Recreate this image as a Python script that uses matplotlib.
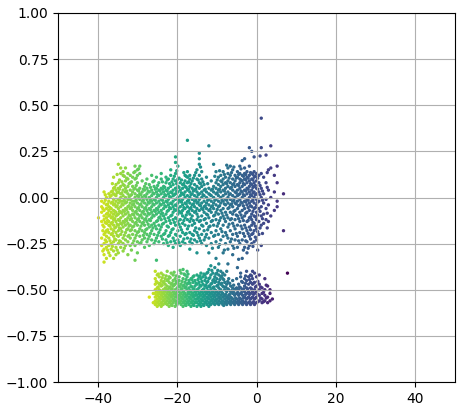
import numpy as np
import matplotlib
matplotlib.use("Agg")
from matplotlib import pyplot as plt

# points, grouped as x: [y, y, ...]
upper_cols = {
    -39.8: [-0.11],
    -39.0: [-0.26, -0.22, -0.13, -0.08, -0.05, -0.02],
    -38.4: [-0.35, -0.31, -0.28, -0.25, -0.2, -0.16, -0.12, -0.1, -0.07, -0.03, 0.03],
    -37.8: [-0.33, -0.27, -0.24, -0.21, -0.18, -0.14, -0.11, -0.09, -0.06, -0.04, 0.0],
    -37.2: [-0.3, -0.26, -0.22, -0.19, -0.15, -0.13, -0.1, -0.07, -0.05, -0.02, 0.02],
    -36.6: [-0.28, -0.25, -0.2, -0.17, -0.14, -0.11, -0.08, -0.06, -0.03, 0.01, 0.03],
    -36.0: [-0.33, -0.29, -0.24, -0.21, -0.18, -0.15, -0.12, -0.09, -0.07, -0.04, -0.01, 0.02, 0.05, 0.11],
    -35.4: [-0.31, -0.27, -0.23, -0.19, -0.16, -0.13, -0.1, -0.08, -0.05, -0.02, 0.01, 0.04, 0.07],
    -34.8: [-0.3, -0.25, -0.21, -0.18, -0.15, -0.12, -0.09, -0.06, -0.03, -0.01, 0.03, 0.05, 0.08, 0.18],
    -34.2: [-0.27, -0.24, -0.2, -0.17, -0.14, -0.11, -0.08, -0.05, -0.02, 0.0, 0.02, 0.06, 0.13, 0.16],
    -33.6: [-0.29, -0.25, -0.22, -0.16, -0.13, -0.1, -0.07, -0.04, -0.02, 0.01, 0.04, 0.07, 0.12, 0.14],
    -33.0: [-0.26, -0.23, -0.19, -0.15, -0.12, -0.09, -0.06, -0.03, 0.0, 0.03, 0.05, 0.09, 0.16],
    -32.4: [-0.31, -0.24, -0.21, -0.17, -0.14, -0.11, -0.08, -0.05, -0.01, 0.02, 0.06, 0.1, 0.13],
    -31.8: [-0.26, -0.22, -0.18, -0.15, -0.12, -0.1, -0.06, -0.03, -0.01, 0.01, 0.04, 0.08, 0.12],
    -31.2: [-0.25, -0.2, -0.16, -0.13, -0.09, -0.07, -0.04, -0.02, 0.03, 0.06, 0.11],
    -30.6: [-0.34, -0.26, -0.22, -0.18, -0.14, -0.11, -0.08, -0.05, -0.02, 0.0, 0.02, 0.05, 0.1, 0.14, 0.17],
    -30.0: [-0.3, -0.24, -0.19, -0.15, -0.12, -0.09, -0.06, -0.03, 0.01, 0.04, 0.08, 0.12, 0.15],
    -29.4: [-0.25, -0.21, -0.17, -0.13, -0.1, -0.07, -0.04, -0.01, 0.02, 0.05, 0.13, 0.17],
    -28.8: [-0.23, -0.18, -0.14, -0.11, -0.08, -0.05, -0.02, 0.0, 0.03, 0.09],
    -28.2: [-0.27, -0.22, -0.19, -0.15, -0.12, -0.09, -0.06, -0.03, 0.01, 0.04, 0.06],
    -27.6: [-0.24, -0.2, -0.17, -0.13, -0.1, -0.07, -0.04, -0.01, 0.02, 0.05, 0.1],
    -27.0: [-0.26, -0.21, -0.16, -0.12, -0.09, -0.06, -0.03, 0.0, 0.03, 0.07],
    -26.4: [-0.23, -0.18, -0.15, -0.11, -0.08, -0.05, -0.02, 0.01, 0.04, 0.12],
    -25.8: [-0.25, -0.2, -0.14, -0.1, -0.07, -0.04, -0.01, 0.02, 0.06, 0.09],
    -25.2: [-0.34, -0.22, -0.17, -0.13, -0.09, -0.06, -0.03, 0.0, 0.03, 0.05, 0.11],
    -24.6: [-0.24, -0.19, -0.15, -0.11, -0.08, -0.05, -0.02, 0.01, 0.04, 0.08],
    -24.0: [-0.21, -0.16, -0.12, -0.09, -0.07, -0.04, -0.01, 0.02, 0.05, 0.1, 0.13],
    -23.4: [-0.25, -0.2, -0.14, -0.1, -0.06, -0.03, 0.0, 0.03, 0.06],
    -22.8: [-0.23, -0.18, -0.13, -0.09, -0.05, -0.02, 0.01, 0.04, 0.08, 0.11],
    -22.2: [-0.26, -0.21, -0.16, -0.11, -0.07, -0.04, -0.01, 0.02, 0.05, 0.1],
    -21.6: [-0.24, -0.19, -0.14, -0.1, -0.06, -0.03, 0.0, 0.03, 0.06, 0.12, 0.15],
    -21.0: [-0.27, -0.22, -0.17, -0.12, -0.08, -0.05, -0.02, 0.01, 0.04, 0.07, 0.1],
    -20.4: [-0.25, -0.2, -0.15, -0.11, -0.07, -0.04, -0.01, 0.02, 0.05, 0.09, 0.13, 0.19, 0.22],
    -19.8: [-0.23, -0.18, -0.13, -0.09, -0.06, -0.03, 0.0, 0.03, 0.06, 0.1, 0.17],
    -19.2: [-0.26, -0.21, -0.16, -0.12, -0.08, -0.05, -0.02, 0.01, 0.04, 0.08],
    -18.6: [-0.24, -0.19, -0.14, -0.1, -0.07, -0.04, -0.01, 0.02, 0.05, 0.07],
    -18.0: [-0.25, -0.2, -0.15, -0.11, -0.06, -0.03, 0.0, 0.03, 0.06, 0.09, 0.12],
    -17.4: [-0.22, -0.17, -0.12, -0.08, -0.05, -0.02, 0.01, 0.04, 0.08, 0.11, 0.14, 0.31],
    -16.8: [-0.28, -0.24, -0.19, -0.13, -0.09, -0.06, -0.03, 0.0, 0.03, 0.06, 0.1, 0.12],
    -16.2: [-0.25, -0.2, -0.15, -0.1, -0.07, -0.04, -0.01, 0.02, 0.05, 0.09],
    -15.6: [-0.23, -0.18, -0.14, -0.08, -0.05, -0.02, 0.01, 0.04, 0.07, 0.12],
    -15.0: [-0.3, -0.24, -0.19, -0.12, -0.09, -0.06, -0.03, 0.0, 0.03, 0.06, 0.1, 0.15],
    -14.4: [-0.22, -0.17, -0.13, -0.07, -0.04, -0.01, 0.02, 0.05, 0.08, 0.12, 0.18, 0.21, 0.24],
    -13.8: [-0.25, -0.2, -0.15, -0.1, -0.06, -0.03, 0.0, 0.03, 0.06, 0.1, 0.14],
    -13.2: [-0.23, -0.18, -0.12, -0.08, -0.05, -0.02, 0.01, 0.04, 0.07],
    -12.6: [-0.26, -0.2, -0.14, -0.09, -0.06, -0.03, 0.0, 0.03, 0.11],
    -12.0: [-0.3, -0.22, -0.16, -0.11, -0.07, -0.04, -0.01, 0.02, 0.05, 0.28],
    -11.4: [-0.25, -0.19, -0.13, -0.08, -0.05, -0.02, 0.01, 0.04, 0.09],
    -10.8: [-0.21, -0.15, -0.1, -0.06, -0.03, 0.0, 0.03, 0.06, 0.18],
    -10.2: [-0.33, -0.24, -0.18, -0.12, -0.08, -0.04, -0.01, 0.02, 0.05, 0.08, 0.14],
    -9.6: [-0.27, -0.2, -0.14, -0.09, -0.05, -0.02, 0.01, 0.04, 0.07, 0.11],
    -9.0: [-0.23, -0.17, -0.11, -0.07, -0.03, 0.0, 0.03, 0.06, 0.09, 0.12],
    -8.4: [-0.3, -0.21, -0.15, -0.1, -0.06, -0.02, 0.01, 0.04, 0.07, 0.1, 0.14],
    -7.8: [-0.25, -0.19, -0.13, -0.08, -0.04, -0.01, 0.02, 0.05, 0.08, 0.11],
    -7.2: [-0.36, -0.28, -0.22, -0.16, -0.11, -0.06, -0.03, 0.0, 0.03, 0.06, 0.09, 0.13, 0.16],
    -6.6: [-0.24, -0.18, -0.12, -0.08, -0.04, -0.01, 0.02, 0.05, 0.08, 0.12, 0.17],
    -6.0: [-0.31, -0.26, -0.2, -0.14, -0.09, -0.05, -0.02, 0.01, 0.04, 0.07, 0.1, 0.15],
    -5.4: [-0.23, -0.17, -0.12, -0.07, -0.03, 0.0, 0.03, 0.06, 0.09, 0.12],
    -4.8: [-0.38, -0.27, -0.21, -0.15, -0.1, -0.06, -0.02, 0.01, 0.04, 0.07, 0.11, 0.14],
    -4.2: [-0.25, -0.19, -0.13, -0.08, -0.04, -0.01, 0.02, 0.05, 0.08, 0.1, 0.13, 0.17],
    -3.6: [-0.33, -0.23, -0.17, -0.11, -0.07, -0.03, 0.0, 0.03, 0.06, 0.09, 0.12, 0.2],
    -3.0: [-0.27, -0.21, -0.15, -0.1, -0.06, -0.02, 0.01, 0.04, 0.07, 0.1, 0.13, 0.16, 0.21],
    -2.4: [-0.3, -0.24, -0.18, -0.13, -0.08, -0.04, -0.01, 0.02, 0.05, 0.08, 0.11, 0.14],
    -1.8: [-0.26, -0.21, -0.16, -0.11, -0.07, -0.03, 0.0, 0.03, 0.06, 0.09, 0.12, 0.17, 0.27],
    -1.2: [-0.25, -0.2, -0.15, -0.12, -0.09, -0.05, -0.02, 0.01, 0.04, 0.07, 0.1, 0.13, 0.25],
    -0.6: [-0.24, -0.18, -0.14, -0.1, -0.06, -0.03, 0.0, 0.03, 0.06, 0.08, 0.11, 0.14, 0.22],
    0.0: [-0.23, -0.17, -0.12, -0.08, -0.04, -0.01, 0.02, 0.05, 0.09, 0.13],
    0.6: [-0.2, -0.13, -0.06, -0.02, 0.03, 0.08, 0.12],
    1.2: [-0.26, -0.15, -0.1, -0.05, 0.0, 0.05, 0.13, 0.27, 0.43],
    1.8: [-0.14, -0.09, -0.03, 0.02, 0.11],
    2.4: [-0.12, -0.06, -0.01, 0.08, 0.23],
    3.0: [-0.13, -0.04, 0.04, 0.15],
    3.6: [-0.1, 0.0, 0.16, 0.28],
    4.5: [-0.07, 0.03, 0.12],
    5.2: [-0.05, -0.02, 0.08, 0.17],
    6.8: [-0.18, 0.02],
}

# second pass over the same cluster, between the columns above
upper_fill = {
    -38.7: [-0.29, -0.18, -0.15, -0.06],
    -38.1: [-0.23, -0.19, -0.135, -0.015, 0.015],
    -37.5: [-0.285, -0.175, -0.125, -0.085, -0.035],
    -36.9: [-0.315, -0.235, -0.155, -0.095, -0.055, 0.005],
    -36.3: [-0.265, -0.195, -0.135, -0.105, -0.025, 0.035, 0.075],
    -35.7: [-0.225, -0.165, -0.115, -0.075, -0.035, 0.015, 0.055],
    -35.1: [-0.285, -0.205, -0.145, -0.095, -0.045, 0.025, 0.125],
    -34.5: [-0.235, -0.165, -0.125, -0.075, -0.015, 0.045, 0.095],
    -33.9: [-0.185, -0.145, -0.085, -0.035, 0.025, 0.085],
    -33.3: [-0.275, -0.205, -0.135, -0.075, -0.015, 0.065, 0.115],
    -32.7: [-0.175, -0.125, -0.065, -0.025, 0.035, 0.105],
    -32.1: [-0.205, -0.155, -0.095, -0.045, 0.005, 0.075],
    -31.5: [-0.285, -0.175, -0.115, -0.055, 0.015, 0.085],
    -30.9: [-0.235, -0.155, -0.095, -0.035, 0.045, 0.135],
    -30.3: [-0.205, -0.135, -0.075, -0.015, 0.065, 0.105],
    -29.7: [-0.185, -0.115, -0.055, 0.005, 0.035, 0.155],
    -29.1: [-0.245, -0.155, -0.095, -0.035, 0.015],
    -28.5: [-0.205, -0.135, -0.075, -0.015, 0.045],
    -27.9: [-0.175, -0.115, -0.055, 0.005, 0.075],
    -27.3: [-0.225, -0.145, -0.085, -0.025, 0.035],
    -26.7: [-0.195, -0.125, -0.065, -0.015, 0.055],
    -26.1: [-0.165, -0.095, -0.035, 0.025, 0.085],
    -25.5: [-0.235, -0.155, -0.075, -0.015, 0.045],
    -24.9: [-0.205, -0.125, -0.065, 0.015, 0.065],
    -24.3: [-0.175, -0.105, -0.035, 0.035],
    -23.7: [-0.225, -0.145, -0.085, -0.015, 0.045, 0.085],
    -23.1: [-0.195, -0.115, -0.045, 0.015, 0.055],
    -22.5: [-0.245, -0.155, -0.075, -0.025, 0.035, 0.095],
    -21.9: [-0.205, -0.125, -0.055, 0.005, 0.075],
    -21.3: [-0.175, -0.095, -0.035, 0.025, 0.085],
    -20.7: [-0.235, -0.135, -0.065, 0.015, 0.115],
    -20.1: [-0.205, -0.115, -0.045, 0.035, 0.075, 0.145],
    -19.5: [-0.245, -0.145, -0.075, -0.015, 0.055, 0.105],
    -18.9: [-0.175, -0.085, -0.025, 0.025, 0.095],
    -18.3: [-0.225, -0.125, -0.055, 0.015, 0.075, 0.135],
    -17.7: [-0.195, -0.095, -0.035, 0.055, 0.115],
    -17.1: [-0.155, -0.075, -0.015, 0.045, 0.085],
    -16.5: [-0.225, -0.115, -0.055, 0.015, 0.075],
    -15.9: [-0.205, -0.125, -0.035, 0.035, 0.105],
    -15.3: [-0.165, -0.075, -0.015, 0.045, 0.135],
    -14.7: [-0.205, -0.105, -0.025, 0.015, 0.095],
    -14.1: [-0.235, -0.125, -0.045, 0.075, 0.165],
    -13.5: [-0.155, -0.065, 0.015, 0.085],
    -12.9: [-0.215, -0.115, -0.045, 0.045],
    -12.3: [-0.175, -0.095, -0.015, 0.075],
    -11.7: [-0.155, -0.065, 0.015],
    -11.1: [-0.275, -0.125, -0.045, 0.045],
    -10.5: [-0.205, -0.095, -0.015, 0.115],
    -9.9: [-0.155, -0.065, 0.025, 0.095],
    -9.3: [-0.255, -0.125, -0.045, 0.045, 0.145],
    -8.7: [-0.185, -0.085, -0.015, 0.085],
    -8.1: [-0.285, -0.115, -0.035, 0.035, 0.125],
    -7.5: [-0.205, -0.095, -0.015, 0.075, 0.175],
    -6.9: [-0.145, -0.055, 0.015, 0.105],
    -6.3: [-0.225, -0.115, -0.035, 0.055, 0.135],
    -5.7: [-0.275, -0.155, -0.075, -0.015, 0.075, 0.165],
    -5.1: [-0.195, -0.095, -0.035, 0.025, 0.105],
    -4.5: [-0.335, -0.235, -0.115, -0.045, 0.015, 0.065, 0.125],
    -3.9: [-0.155, -0.095, -0.025, 0.035, 0.095, 0.155],
    -3.3: [-0.285, -0.195, -0.125, -0.045, 0.015, 0.075, 0.115],
    -2.7: [-0.235, -0.165, -0.085, -0.025, 0.035, 0.095, 0.125],
    -2.1: [-0.275, -0.195, -0.125, -0.055, -0.015, 0.045, 0.105],
    -1.5: [-0.225, -0.175, -0.105, -0.045, 0.015, 0.075, 0.135],
    -0.9: [-0.265, -0.195, -0.135, -0.075, -0.015, 0.025, 0.055, 0.095, 0.125],
    -0.3: [-0.215, -0.155, -0.105, -0.055, 0.015, 0.065, 0.115],
    0.3: [-0.285, -0.185, -0.095, -0.025, 0.045, 0.105],
    0.9: [-0.165, -0.075, 0.015, 0.065, 0.225],
    1.5: [-0.195, -0.115, -0.015, 0.035],
    2.7: [-0.165, -0.085, 0.055, 0.135],
}

lower_cols = {
    -27.0: [-0.54],
    -26.0: [-0.57, -0.52],
    -25.5: [-0.58, -0.56, -0.54, -0.52, -0.5, -0.47, -0.44, -0.4],
    -25.0: [-0.59, -0.57, -0.55, -0.53, -0.51, -0.49, -0.46, -0.42],
    -24.5: [-0.58, -0.56, -0.54, -0.52, -0.5, -0.47, -0.43],
    -24.0: [-0.59, -0.57, -0.55, -0.53, -0.51, -0.48, -0.45, -0.41],
    -23.5: [-0.58, -0.56, -0.54, -0.52, -0.5, -0.46, -0.42],
    -23.0: [-0.57, -0.55, -0.53, -0.51, -0.49, -0.47, -0.44],
    -22.5: [-0.58, -0.56, -0.54, -0.52, -0.5, -0.48, -0.45, -0.4],
    -22.0: [-0.59, -0.57, -0.55, -0.53, -0.51, -0.49, -0.46, -0.43],
    -21.5: [-0.58, -0.56, -0.54, -0.52, -0.5, -0.47, -0.41],
    -21.0: [-0.57, -0.55, -0.53, -0.51, -0.48, -0.45, -0.42],
    -20.5: [-0.59, -0.56, -0.54, -0.52, -0.5, -0.47, -0.44],
    -20.0: [-0.58, -0.56, -0.54, -0.51, -0.49, -0.46],
    -19.5: [-0.57, -0.55, -0.53, -0.51, -0.48, -0.45, -0.43],
    -19.0: [-0.58, -0.56, -0.54, -0.52, -0.5, -0.47, -0.41],
    -18.5: [-0.59, -0.57, -0.55, -0.53, -0.51, -0.48, -0.44, -0.39],
    -18.0: [-0.58, -0.56, -0.54, -0.52, -0.49, -0.46, -0.42],
    -17.5: [-0.57, -0.55, -0.53, -0.5, -0.47, -0.43, -0.4],
    -17.0: [-0.58, -0.56, -0.54, -0.52, -0.49, -0.45],
    -16.5: [-0.59, -0.57, -0.55, -0.53, -0.51, -0.48, -0.44],
    -16.0: [-0.58, -0.56, -0.54, -0.52, -0.5, -0.46, -0.43],
    -15.5: [-0.57, -0.55, -0.53, -0.51, -0.48, -0.45],
    -15.0: [-0.59, -0.57, -0.55, -0.53, -0.5, -0.47, -0.42],
    -14.5: [-0.58, -0.56, -0.54, -0.52, -0.49, -0.46, -0.43],
    -14.0: [-0.59, -0.57, -0.55, -0.53, -0.51, -0.48, -0.44, -0.41],
    -13.5: [-0.58, -0.56, -0.54, -0.52, -0.5, -0.47, -0.43],
    -13.0: [-0.57, -0.55, -0.53, -0.51, -0.48, -0.45, -0.42],
    -12.5: [-0.58, -0.56, -0.54, -0.52, -0.49, -0.46, -0.41],
    -12.0: [-0.59, -0.57, -0.55, -0.53, -0.51, -0.48, -0.44, -0.39],
    -11.5: [-0.58, -0.56, -0.54, -0.52, -0.5, -0.47, -0.42, -0.37],
    -11.0: [-0.57, -0.55, -0.53, -0.51, -0.49, -0.45, -0.41],
    -10.5: [-0.58, -0.56, -0.54, -0.52, -0.5, -0.46, -0.43, -0.38],
    -10.0: [-0.57, -0.55, -0.53, -0.51, -0.48, -0.44, -0.41],
    -9.5: [-0.58, -0.56, -0.54, -0.52, -0.49, -0.46, -0.42, -0.36],
    -9.0: [-0.57, -0.55, -0.53, -0.5, -0.47, -0.43, -0.4],
    -8.5: [-0.58, -0.56, -0.54, -0.52, -0.48, -0.44, -0.41],
    -8.0: [-0.57, -0.55, -0.53, -0.5, -0.46, -0.42],
    -7.5: [-0.58, -0.56, -0.54, -0.51, -0.47, -0.4],
    -7.0: [-0.57, -0.55, -0.53, -0.5, -0.44],
    -6.5: [-0.58, -0.56, -0.54, -0.51, -0.48],
    -6.0: [-0.57, -0.55, -0.52, -0.49, -0.45],
    -5.5: [-0.58, -0.56, -0.53, -0.5],
    -5.0: [-0.57, -0.55, -0.52, -0.49, -0.44],
    -4.5: [-0.58, -0.56, -0.53, -0.5, -0.47],
    -4.0: [-0.57, -0.55, -0.52, -0.49, -0.43, -0.41],
    -3.5: [-0.58, -0.56, -0.53, -0.5, -0.46],
    -3.0: [-0.57, -0.54, -0.51, -0.48, -0.44],
    -2.5: [-0.58, -0.55, -0.52, -0.49, -0.45, -0.4],
    -2.0: [-0.57, -0.54, -0.51, -0.47, -0.43],
    -1.5: [-0.58, -0.55, -0.52, -0.49, -0.46, -0.42],
    -1.0: [-0.57, -0.54, -0.51, -0.47, -0.44, -0.4],
    -0.5: [-0.58, -0.55, -0.52, -0.5, -0.46, -0.41],
    0.0: [-0.57, -0.54, -0.51, -0.48, -0.43],
    0.7: [-0.56, -0.53, -0.5, -0.47, -0.42],
    1.4: [-0.57, -0.55, -0.52, -0.49],
    2.1: [-0.56, -0.53, -0.5, -0.44],
    2.8: [-0.57, -0.54, -0.48],
    3.4: [-0.56, -0.52, -0.5],
    4.0: [-0.55],
    7.8: [-0.41],
}

lower_fill = {
    -25.25: [-0.575, -0.535, -0.505, -0.455],
    -24.75: [-0.565, -0.525, -0.485, -0.415],
    -24.25: [-0.545, -0.505, -0.465],
    -23.75: [-0.575, -0.525, -0.475, -0.435],
    -23.25: [-0.555, -0.515, -0.455],
    -22.75: [-0.575, -0.535, -0.495, -0.425],
    -22.25: [-0.545, -0.505, -0.445],
    -21.75: [-0.565, -0.525, -0.485, -0.435],
    -21.25: [-0.585, -0.535, -0.495, -0.465],
    -20.75: [-0.555, -0.515, -0.475, -0.405],
    -20.25: [-0.575, -0.525, -0.455, -0.425],
    -19.75: [-0.545, -0.505, -0.465],
    -19.25: [-0.565, -0.525, -0.485, -0.395],
    -18.75: [-0.545, -0.495, -0.455],
    -18.25: [-0.565, -0.515, -0.475, -0.415],
    -17.75: [-0.585, -0.535, -0.485, -0.445],
    -17.25: [-0.565, -0.515, -0.465, -0.415],
    -16.75: [-0.545, -0.505, -0.465],
    -16.25: [-0.565, -0.525, -0.485, -0.445],
    -15.75: [-0.585, -0.535, -0.495, -0.425],
    -15.25: [-0.565, -0.515, -0.465],
    -14.75: [-0.545, -0.505, -0.445],
    -14.25: [-0.575, -0.525, -0.475, -0.425],
    -13.75: [-0.555, -0.505, -0.455],
    -13.25: [-0.585, -0.535, -0.495, -0.415],
    -12.75: [-0.565, -0.515, -0.475, -0.435],
    -12.25: [-0.545, -0.505, -0.455, -0.405],
    -11.75: [-0.575, -0.525, -0.485, -0.435],
    -11.25: [-0.555, -0.515, -0.465, -0.395],
    -10.75: [-0.575, -0.535, -0.485, -0.445],
    -10.25: [-0.555, -0.505, -0.455, -0.415],
    -9.75: [-0.575, -0.525, -0.475, -0.395],
    -9.25: [-0.545, -0.505, -0.445],
    -8.75: [-0.565, -0.515, -0.465, -0.425],
    -8.25: [-0.585, -0.535, -0.485, -0.445],
    -7.75: [-0.565, -0.525, -0.485],
    -7.25: [-0.545, -0.495, -0.455],
    -6.75: [-0.565, -0.525, -0.465],
    -6.25: [-0.545, -0.505],
    -5.75: [-0.565, -0.515, -0.475],
    -5.25: [-0.545, -0.495],
    -4.75: [-0.565, -0.515],
    -4.25: [-0.545, -0.485],
    -3.75: [-0.565, -0.515, -0.455],
    -3.25: [-0.545, -0.495],
    -2.75: [-0.565, -0.525, -0.465, -0.425],
    -2.25: [-0.545, -0.495],
    -1.75: [-0.565, -0.525, -0.445],
    -1.25: [-0.545, -0.495, -0.425],
    -0.75: [-0.565, -0.525, -0.465],
    -0.25: [-0.545, -0.485],
    0.35: [-0.565, -0.525, -0.455],
    1.05: [-0.545, -0.485],
    1.75: [-0.565, -0.515],
    2.45: [-0.545, -0.475],
}

tick_x = [-40, -20, 0, 20, 40]
tick_y = [-1.0, -0.75, -0.5, -0.25, 0.0, 0.25, 0.5, 0.75, 1.0]


def flatten(*groups):
    xs, ys = [], []
    for cols in groups:
        for x, vals in cols.items():
            xs += [x] * len(vals)
            ys += vals
    return np.array(xs), np.array(ys)


fig = plt.figure(figsize=(4.65, 4.09), dpi=100)
ax = fig.add_axes([58 / 465, 1 - 382 / 409, 397 / 465, 369 / 409])

x1, y1 = flatten(upper_cols, upper_fill)
x2, y2 = flatten(lower_cols, lower_fill)
ax.scatter(x1, y1, c=x1, cmap="viridis_r", vmin=-43, vmax=14, s=2)
ax.scatter(x2, y2, c=x2, cmap="viridis_r", vmin=-29, vmax=7, s=2)

ax.set_xlim(-50, 50)
ax.set_ylim(-1, 1)
ax.set_xticks(tick_x)
ax.set_yticks(tick_y)
ax.grid(True)

fig.savefig("out.png", dpi=100)
